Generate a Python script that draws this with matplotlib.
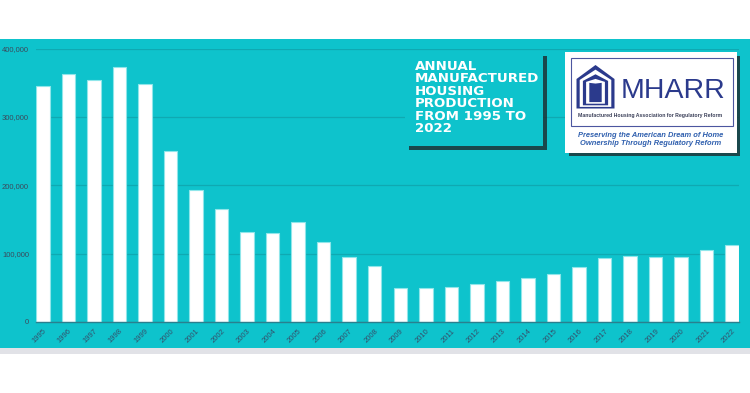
import matplotlib
matplotlib.use("Agg")
import matplotlib.pyplot as plt
from matplotlib.patches import Rectangle, Polygon
from matplotlib.ticker import FuncFormatter

# Annual manufactured housing production (units)
years = [str(y) for y in range(1995, 2023)]
units = [344930, 363345, 353686, 372843, 348671, 250550, 193229, 165489,
         131408, 130802, 146881, 117373, 95769, 81889, 49789, 50046,
         51606, 54881, 60228, 64334, 70544, 81136, 92902, 96555,
         94615, 94390, 105772, 112882]
y_ticks = [0, 100000, 200000, 300000, 400000]

title_text = "ANNUAL\nMANUFACTURED\nHOUSING\nPRODUCTION\nFROM 1995 TO\n2022"
logo_name = "MHARR"
logo_sub = "Manufactured Housing Association for Regulatory Reform"
logo_tag = "Preserving the American Dream of Home\nOwnership Through Regulatory Reform"

TEAL = "#0ec3cc"
NAVY = "#2b3a8c"
W, H = 750, 393


def fx(x):
    return x / W


def fy(y):
    return 1 - y / H


fig = plt.figure(figsize=(7.5, 3.93), dpi=100)

# teal panel + grey strip under it
fig.add_artist(Rectangle((0, fy(348)), 1, fy(39) - fy(348), transform=fig.transFigure,
                         facecolor=TEAL, edgecolor="none", zorder=-10))
fig.add_artist(Rectangle((0, fy(354)), 1, fy(348) - fy(354), transform=fig.transFigure,
                         facecolor="#e1e2e7", edgecolor="none", zorder=-10))

ax = fig.add_axes([fx(36), fy(322), (739 - 36) / W, (322 - 48.5) / H])
ax.set_facecolor("none")
x = list(range(len(years)))
ax.bar(x, units, width=0.53, color="white", edgecolor="#8fe6ea", linewidth=0.8, zorder=3)
ax.set_xlim(-0.265, len(years) - 1 + 0.265)
ax.set_ylim(0, 400000)
ax.set_yticks(y_ticks)
ax.yaxis.set_major_formatter(FuncFormatter(lambda v, p: f"{int(v):,}"))
ax.set_xticks(x)
ax.set_xticklabels(years, rotation=45, ha="right", rotation_mode="anchor")
ax.tick_params(axis="y", length=0, pad=5, labelsize=5.5, labelcolor="#3b4a5c")
ax.tick_params(axis="x", length=0, pad=4, labelsize=5.5, labelcolor="#34506b")
for t in ax.get_yticklabels() + ax.get_xticklabels():
    t.set_family("Liberation Sans")
ax.grid(axis="y", color="#0fa9b2", linewidth=0.9, zorder=0)
ax.set_axisbelow(True)
for s in ["top", "right", "left"]:
    ax.spines[s].set_visible(False)
ax.spines["bottom"].set_color("#2a7f8e")
ax.spines["bottom"].set_linewidth(1.0)
ax.spines["bottom"].set_zorder(4)

# title box with drop shadow
fig.add_artist(Rectangle((fx(409), fy(150)), (547 - 409) / W, (150 - 56) / H,
                         transform=fig.transFigure, facecolor="#1c2a2c",
                         edgecolor="none", alpha=0.8, zorder=5))
fig.add_artist(Rectangle((fx(405), fy(146)), (543 - 405) / W, (146 - 52) / H,
                         transform=fig.transFigure, facecolor=TEAL,
                         edgecolor="none", zorder=6))
fig.text(fx(415), fy(59.5), title_text, color="white", fontsize=9.6, fontweight="heavy",
         family="DejaVu Sans", linespacing=0.96, ha="left", va="top", zorder=7)

# logo box with drop shadow
fig.add_artist(Rectangle((fx(569), fy(156)), (740 - 569) / W, (156 - 56) / H,
                         transform=fig.transFigure, facecolor="#1c2a2c",
                         edgecolor="none", alpha=0.8, zorder=5))
fig.add_artist(Rectangle((fx(565), fy(152.5)), (737 - 565) / W, (152.5 - 52) / H,
                         transform=fig.transFigure, facecolor="white",
                         edgecolor="none", zorder=6))
fig.add_artist(Rectangle((fx(571), fy(126)), (733 - 571) / W, (126 - 57.5) / H,
                         transform=fig.transFigure, facecolor="none",
                         edgecolor="#4c56a0", linewidth=0.8, zorder=7))

# nested house icon
for i, col in enumerate([NAVY, "white", NAVY, "white", NAVY]):
    d = i * 3.2
    l, r, b = 576.5 + d, 614.5 - d, 108.5 - d * 0.5
    eave, peak = 79 + d * 0.3, 65 + d * 1.45
    cx = (l + r) / 2
    pts = [(fx(l), fy(b)), (fx(l), fy(eave)), (fx(cx), fy(peak)),
           (fx(r), fy(eave)), (fx(r), fy(b))]
    fig.add_artist(Polygon(pts, closed=True, transform=fig.transFigure,
                           facecolor=col, edgecolor="none", zorder=8 + i))

fig.text(fx(621), fy(98.3), logo_name, color=NAVY, fontsize=20.5, family="Liberation Sans",
         ha="left", va="baseline", zorder=9)
fig.text(fx(650), fy(115.7), logo_sub, color="#3a3f58", fontsize=3.7,
         family="Liberation Sans", fontweight="bold", ha="center", va="center", zorder=9)
fig.text(fx(651), fy(139.5), logo_tag, color="#2f5fae", fontsize=5.4,
         family="Liberation Sans", fontweight="bold", fontstyle="italic",
         linespacing=1.25, ha="center", va="center", zorder=9)

fig.savefig("out.png", dpi=100)
